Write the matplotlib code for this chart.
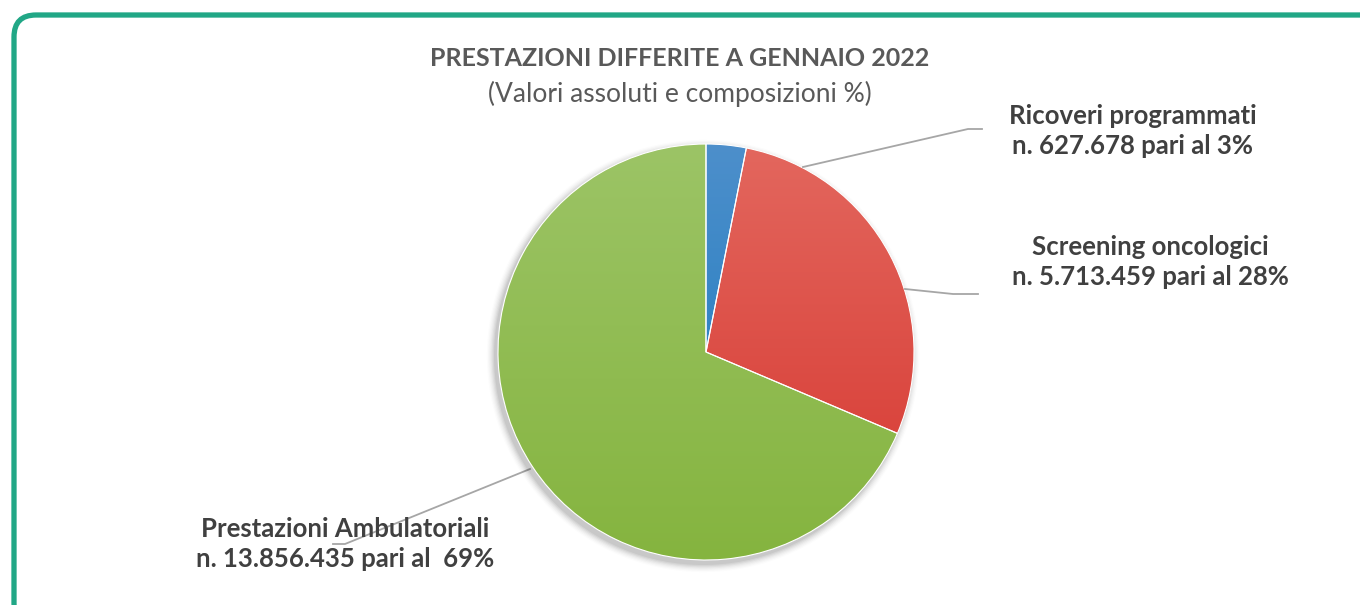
import numpy as np
import matplotlib.pyplot as plt
from matplotlib.patches import FancyBboxPatch, Circle

# data
categories = ['Ricoveri programmati', 'Screening oncologici', 'Prestazioni Ambulatoriali']
values = [627678, 5713459, 13856435]
labels = ['Ricoveri programmati\nn. 627.678 pari al 3%',
          'Screening oncologici\nn. 5.713.459 pari al 28%',
          'Prestazioni Ambulatoriali\nn. 13.856.435 pari al  69%']
top_colors = ['#4d8fcb', '#e3675e', '#9cc466']
bottom_colors = ['#1577bd', '#d6362f', '#85b43f']

W, H = 1360, 605
fig = plt.figure(figsize=(W / 100, H / 100), dpi=100)
ax = fig.add_axes([0, 0, 1, 1])

def Y(y):
    return H - y

font = ['Lato', 'DejaVu Sans']

cx, cy, r = 706, Y(352), 208

# soft shadow
for i, a in enumerate(np.linspace(0.05, 0.012, 7)):
    ax.add_patch(Circle((cx - 3, cy - 4), r + 1 + i * 1.2, color='#000000', alpha=a, lw=0, zorder=2))

wedges, _ = ax.pie(values, center=(cx, cy), radius=r, startangle=90, counterclock=False,
                   wedgeprops=dict(ec='white', lw=0.8), frame=False)

# frame
frame = FancyBboxPatch((14, Y(625)), 1374, 610, boxstyle='round,pad=0,rounding_size=22',
                       fill=False, ec='#21a786', lw=3.8, zorder=1)
ax.add_patch(frame)

# vertical gradient fill on each wedge
grad = np.linspace(0, 1, 256).reshape(-1, 1)
for w, c1, c2 in zip(wedges, top_colors, bottom_colors):
    w.set_zorder(3)
    w.set_facecolor('none')
    a = np.array(plt.matplotlib.colors.to_rgb(c1))
    b = np.array(plt.matplotlib.colors.to_rgb(c2))
    img = a[None, None, :] * (1 - grad[:, :, None]) + b[None, None, :] * grad[:, :, None]
    im = ax.imshow(img, extent=(cx - r, cx + r, cy - r, cy + r), origin='upper',
                   aspect='auto', zorder=2.5, interpolation='bilinear')
    im.set_clip_path(w)
ax.set_xlim(0, W)
ax.set_ylim(0, H)
ax.set_aspect('equal')
ax.axis('off')

# title
ax.text(680, Y(58), 'PRESTAZIONI DIFFERITE A GENNAIO 2022', ha='center', va='center',
        fontsize=18, fontweight='bold', color='#595959', family=font)
ax.text(680, Y(94), '(Valori assoluti e composizioni %)', ha='center', va='center',
        fontsize=19, color='#595959', family=font)

# leader lines
lc = '#a6a6a6'
ax.plot([803, 968, 982], [Y(167), Y(129), Y(129)], color=lc, lw=1.3, zorder=4)
ax.plot([905, 953, 978], [Y(289), Y(294), Y(294)], color=lc, lw=1.3, zorder=4)
ax.plot([530, 345, 333], [Y(469), Y(544), Y(544)], color=lc, lw=1.3, zorder=1.5)

# labels
pos = [(1133, 131), (1150, 262), (345, 544)]
for lab, (x, y) in zip(labels, pos):
    ax.text(x, Y(y), lab, ha='center', va='center', fontsize=18.5, fontweight='bold',
            color='#404040', family=font, linespacing=1.32, zorder=5)

fig.savefig('out.png', dpi=100)
